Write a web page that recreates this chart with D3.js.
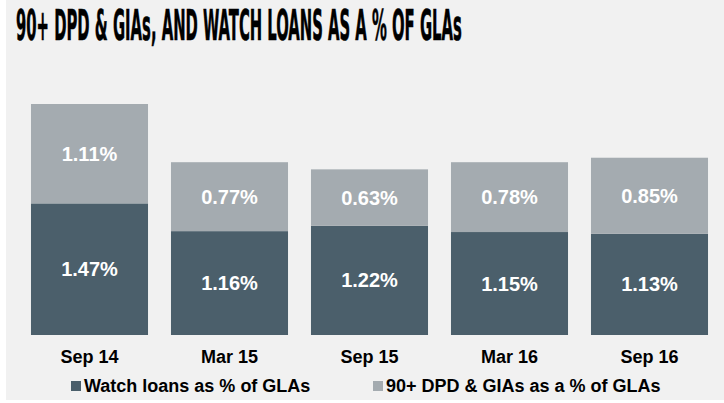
<!DOCTYPE html>
<html><head><meta charset="utf-8">
<script src="https://cdn.jsdelivr.net/npm/d3@7"></script>
<style>html,body{margin:0;padding:0;background:#fff;}svg{display:block;}</style>
</head><body>
<svg id="chart" width="724" height="403"></svg>
<script>
const categories = ["Sep 14", "Mar 15", "Sep 15", "Mar 16", "Sep 16"];
const watchLoans = [1.47, 1.16, 1.22, 1.15, 1.13];
const dpdGias = [1.11, 0.77, 0.63, 0.78, 0.85];
const seriesNames = ["Watch loans as % of GLAs", "90+ DPD & GIAs as a % of GLAs"];
const titleText = "90+ DPD & GIAs, AND WATCH LOANS AS A % OF GLAs";

const colors = ["#4b5f6b", "#a4abb0"];
const svg = d3.select("#chart");
svg.append("rect").attr("x", 6).attr("y", 0).attr("width", 718).attr("height", 400).attr("fill", "#f1f1f1");

const title = svg.append("text").attr("x", 0).attr("y", 0)
  .attr("font-family", "'Liberation Sans Narrow','Arial Narrow','DejaVu Sans Condensed',sans-serif")
  .attr("font-weight", "bold").attr("font-size", 43)
  .attr("fill", "#000").attr("stroke", "#000").attr("stroke-width", 0.6).text(titleText);
const tw = title.node().getComputedTextLength();
title.attr("transform", `translate(16,40) scale(${446 / tw},1)`);

const x = d3.scaleBand().domain(categories).range([19.5, 719.5]).paddingInner(0.164).paddingOuter(0.082);
const y = d3.scaleLinear().domain([0, 2.58]).range([335, 104]);

const data = categories.map((c, i) => ({cat: c, vals: [watchLoans[i], dpdGias[i]]}));
const stack = d3.stack().keys([0, 1]).value((d, k) => d.vals[k]);
const stacked = stack(data);

stacked.forEach((layer, k) => {
  const g = svg.append("g");
  g.selectAll("rect").data(layer).enter().append("rect")
    .attr("x", d => x(d.data.cat)).attr("width", x.bandwidth())
    .attr("y", d => y(d[1])).attr("height", d => y(d[0]) - y(d[1]))
    .attr("fill", colors[k]);
  g.selectAll("text").data(layer).enter().append("text")
    .attr("x", d => x(d.data.cat) + x.bandwidth() / 2)
    .attr("y", d => (y(d[0]) + y(d[1])) / 2)
    .attr("dy", "0.35em").attr("text-anchor", "middle")
    .attr("font-family", "'Liberation Sans',Arial,sans-serif").attr("font-weight", "bold")
    .attr("font-size", 20).attr("fill", "#fff")
    .text(d => d.data.vals[k].toFixed(2) + "%");
});

const xAxis = svg.append("g").attr("transform", "translate(0,335)")
  .call(d3.axisBottom(x).tickSize(0).tickPadding(15));
xAxis.select(".domain").remove();
xAxis.selectAll("text").attr("font-family", "'Liberation Sans',Arial,sans-serif")
  .attr("font-weight", "bold").attr("font-size", 18).attr("fill", "#000");

const legendX = [71, 373];
seriesNames.forEach((name, k) => {
  svg.append("rect").attr("x", legendX[k]).attr("y", 381).attr("width", 10).attr("height", 10).attr("fill", colors[k]);
  svg.append("text").attr("x", legendX[k] + 13).attr("y", 386).attr("dy", "0.35em")
    .attr("font-family", "'Liberation Sans',Arial,sans-serif").attr("font-weight", "bold")
    .attr("font-size", 18).attr("fill", "#000").text(name);
});
</script>
</body></html>
